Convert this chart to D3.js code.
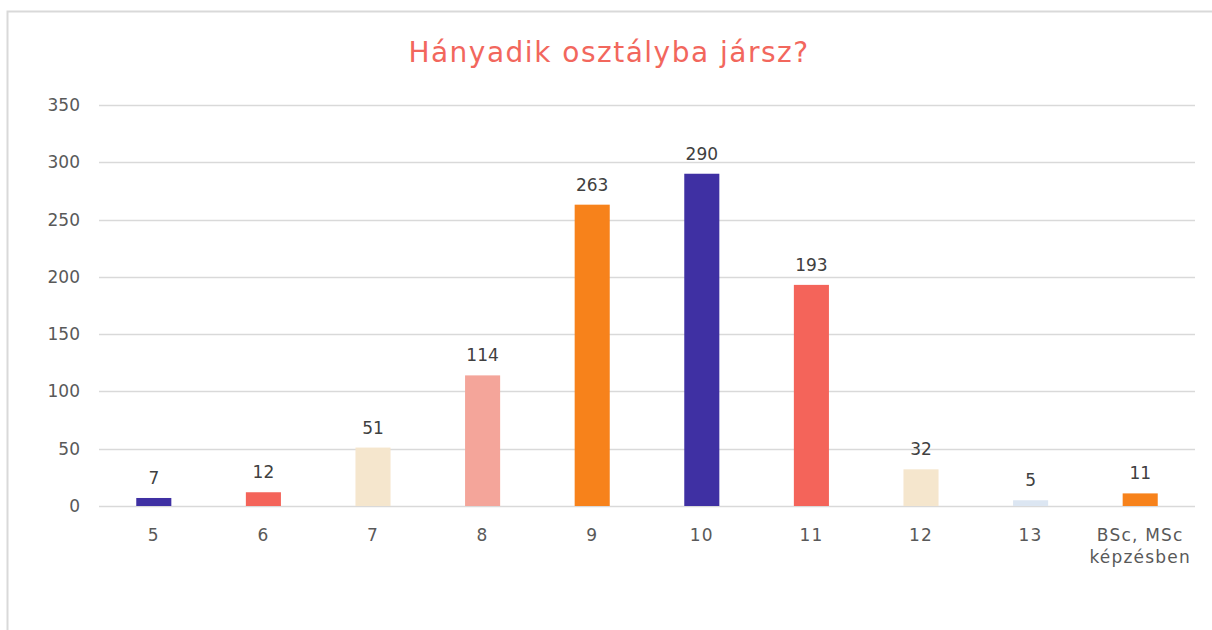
<!DOCTYPE html>
<html>
<head>
<meta charset="UTF-8">
<title>Hányadik osztályba jársz?</title>
<script src="https://d3js.org/d3.v7.min.js"></script>
<style>
  body { margin: 0; background: #fff; }
  svg { display: block; font-family: "DejaVu Sans", sans-serif; }
</style>
</head>
<body>
<script>
const categories = ["5", "6", "7", "8", "9", "10", "11", "12", "13", "BSc, MSc\nképzésben"];
const values = [7, 12, 51, 114, 263, 290, 193, 32, 5, 11];
const barColors = ["#3F30A3", "#F4645A", "#F5E6CD", "#F4A59A", "#F7821B",
                   "#3F30A3", "#F4645A", "#F5E6CD", "#DCE6F2", "#F7821B"];
const yTicks = [0, 50, 100, 150, 200, 250, 300, 350];
const title = "Hányadik osztályba jársz?";

const width = 1212, height = 630;
const margin = { top: 105, right: 17, bottom: 124, left: 99 };

const svg = d3.select("body").append("svg")
  .attr("width", width).attr("height", height);

// chart frame
svg.append("path")
  .attr("d", `M7.5,${height} V11.5 H${width}`)
  .attr("fill", "none").attr("stroke", "#d9d9d9").attr("stroke-width", 2);

const x = d3.scaleBand()
  .domain(categories)
  .range([margin.left, width - margin.right])
  .paddingInner(0.68).paddingOuter(0.34);

const y = d3.scaleLinear()
  .domain([0, 350])
  .range([height - margin.bottom, margin.top]);

svg.append("text")
  .attr("x", 609).attr("y", 62)
  .attr("text-anchor", "middle")
  .attr("fill", "#F2675D")
  .style("font-size", "28px")
  .style("letter-spacing", "1.5px")
  .text(title);

// gridlines
svg.append("g").selectAll("line")
  .data(yTicks).enter().append("line")
  .attr("x1", margin.left).attr("x2", width - margin.right)
  .attr("y1", d => Math.round(y(d)) + 0.5).attr("y2", d => Math.round(y(d)) + 0.5)
  .attr("stroke", "#d9d9d9").attr("stroke-width", 1.5);

// y axis labels
svg.append("g").selectAll("text")
  .data(yTicks).enter().append("text")
  .attr("x", 80).attr("y", d => y(d) + 6)
  .attr("text-anchor", "end")
  .attr("fill", "#595959")
  .style("font-size", "17px")
  .text(d => d);

// bars
svg.append("g").selectAll("rect")
  .data(values).enter().append("rect")
  .attr("x", (d, i) => x(categories[i]))
  .attr("width", x.bandwidth())
  .attr("y", d => y(d))
  .attr("height", d => y(0) - y(d))
  .attr("fill", (d, i) => barColors[i]);

// value labels
svg.append("g").selectAll("text")
  .data(values).enter().append("text")
  .attr("x", (d, i) => x(categories[i]) + x.bandwidth() / 2)
  .attr("y", d => y(d) - 14)
  .attr("text-anchor", "middle")
  .attr("fill", "#404040")
  .style("font-size", "17px")
  .text(d => d);

// category labels
const xl = svg.append("g").selectAll("text")
  .data(categories).enter().append("text")
  .attr("x", d => x(d) + x.bandwidth() / 2)
  .attr("y", 541)
  .attr("text-anchor", "middle")
  .attr("fill", "#595959")
  .style("font-size", "17px")
  .style("letter-spacing", "1.2px");
xl.selectAll("tspan")
  .data(d => d.split("\n")).enter().append("tspan")
  .attr("x", function () { return d3.select(this.parentNode).attr("x"); })
  .attr("dy", (d, i) => i === 0 ? 0 : 22)
  .text(d => d);
</script>
</body>
</html>
